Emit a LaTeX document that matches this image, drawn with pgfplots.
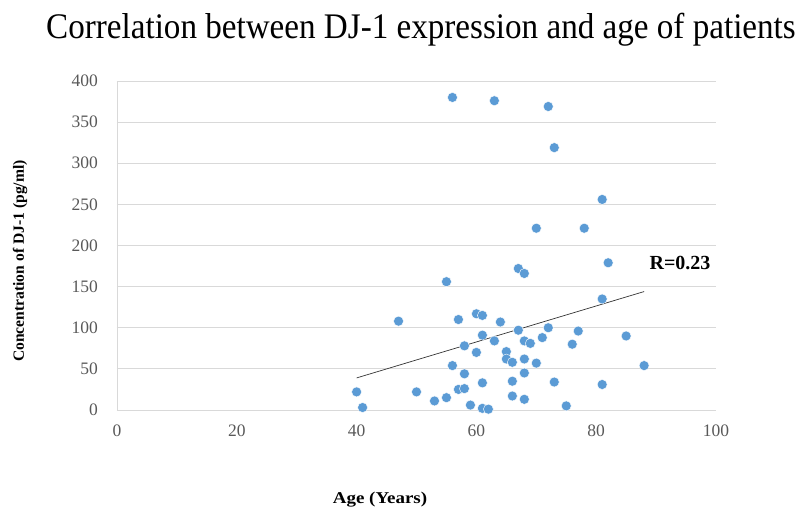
\documentclass[border=0pt]{standalone}
\usepackage{fontspec}
\setmainfont{Liberation Serif}
\usepackage{pgfplots}
\pgfplotsset{compat=1.18}
\definecolor{dotblue}{RGB}{91,155,213}
\definecolor{gridgray}{RGB}{217,217,217}
\definecolor{ticktext}{RGB}{89,89,89}
\begin{document}
\begin{tikzpicture}
\path[use as bounding box] (-117pt,-96pt) rectangle (685pt,410pt);
\begin{axis}[
  at={(0pt,0pt)}, anchor=south west,
  scale only axis, width=599pt, height=329pt,
  xmin=0, xmax=100, ymin=0, ymax=400,
  xtick={0,20,...,100}, ytick={0,50,...,400},
  ymajorgrids, grid style={gridgray, line width=0.8pt},
  axis x line*=bottom, axis y line*=left,
  axis line style={gridgray, line width=0.8pt, -},
  major tick length=0pt,
  tick label style={font=\fontsize{17.5}{17.5}\selectfont, text=ticktext},
  /pgf/number format/assume math mode=true,
  yticklabel style={inner sep=0pt, xshift=-19pt},
  xticklabel style={inner sep=0pt, yshift=-15pt},
  clip=false,
]
% trend line
\addplot[draw=black!80, line width=0.7pt] coordinates {(40,39) (88,144)};
\addplot[only marks, mark=*, mark size=5pt, mark options={fill=dotblue, draw=white, line width=0.4pt}] coordinates {
(56,380) (63,376) (72,369) (73,319) (81,256) (70,221) (78,221)
(82,179) (67,172) (68,166) (55,156) (81,135) (47,108) (57,110)
(60,117) (61,115) (64,107) (67,97) (72,100) (77,96) (85,90)
(61,91) (63,84) (68,84) (69,81) (71,88) (76,80) (58,78)
(60,70) (65,71) (65,62) (66,58) (68,62) (70,57) (56,54)
(88,54) (58,44) (68,45) (61,33) (66,35) (73,34) (81,31)
(40,22) (50,22) (57,25) (58,26) (53,11) (55,15) (66,17)
(68,13) (59,6) (61,2) (62,1) (41,3) (75,5)
};
\node[font=\bfseries\fontsize{20}{20}\selectfont] at (axis cs:94,179) {R=0.23};
\end{axis}
\node[font=\fontsize{36}{36}\selectfont, anchor=base, xscale=0.92] at (304pt,371pt) {Correlation between DJ-1 expression and age of patients};
\node[font=\bfseries\fontsize{15.6}{15.6}\selectfont, rotate=90] at (-97pt,149pt) {Concentration of DJ-1 (pg/ml)};
\node[font=\bfseries\fontsize{16.5}{16.5}\selectfont, anchor=base, xscale=1.15] at (263pt,-93pt) {Age (Years)};
\end{tikzpicture}
\end{document}
